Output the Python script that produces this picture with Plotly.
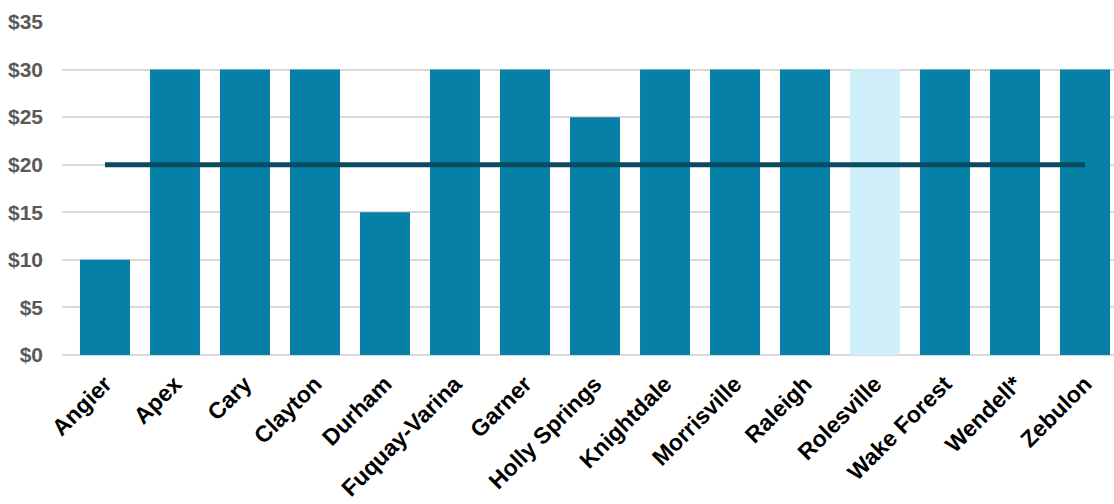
import plotly.graph_objects as go

towns = ["Angier", "Apex", "Cary", "Clayton", "Durham", "Fuquay-Varina", "Garner",
         "Holly Springs", "Knightdale", "Morrisville", "Raleigh", "Rolesville",
         "Wake Forest", "Wendell*", "Zebulon"]
fees = [10, 30, 30, 30, 15, 30, 30, 25, 30, 30, 30, 30, 30, 30, 30]
average = [20] * len(towns)
highlight = "Rolesville"

bar_colors = ["#CFF0FB" if t == highlight else "#0780A7" for t in towns]

fig = go.Figure()
fig.add_trace(go.Bar(x=towns, y=fees, marker=dict(color=bar_colors, line=dict(width=0)),
                     showlegend=False))
fig.add_trace(go.Scatter(x=towns, y=average, mode="lines",
                         line=dict(color="#0A4B61", width=5), showlegend=False))

fig.update_layout(
    width=1114, height=504,
    margin=dict(l=62, r=0, t=22, b=149),
    plot_bgcolor="white", paper_bgcolor="white",
    bargap=0.286,
    font=dict(family="Liberation Sans, Arial, sans-serif"),
)
fig.update_xaxes(
    range=[-0.614, 14.414],
    tickangle=-45,
    tickfont=dict(size=23, color="#000000", family="Liberation Sans, Arial, sans-serif", weight="bold"),
    showgrid=False, showline=False, ticks="", ticklabelstandoff=10,
)
fig.update_yaxes(
    range=[0, 35], dtick=5, tickprefix="$",
    tickfont=dict(size=21, color="#595959", family="Liberation Sans, Arial, sans-serif", weight="bold"),
    showgrid=True, gridcolor="#D9D9D9", gridwidth=1.5,
    zeroline=True, zerolinecolor="#D9D9D9", zerolinewidth=2,
    ticks="", ticklabelstandoff=18,
)

fig.write_html("out.html")
